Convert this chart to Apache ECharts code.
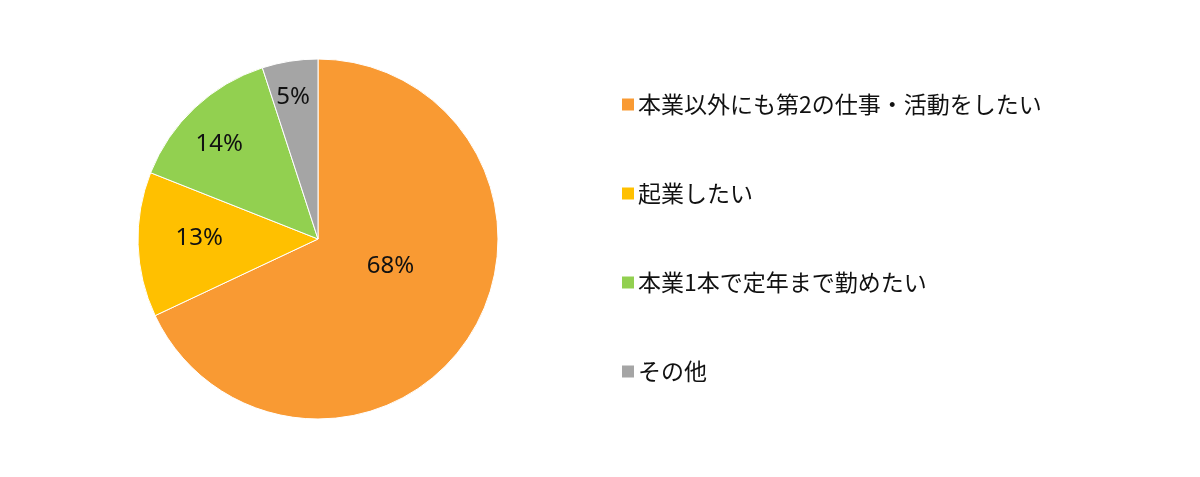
<!DOCTYPE html>
<html lang="ja">
<head>
<meta charset="UTF-8">
<title>Pie</title>
<style>
    * { margin: 0; padding: 0; }
    html, body { background: #fff; }
    #main { width: 1200px; height: 477px; }
</style>
<script src="https://cdn.jsdelivr.net/npm/echarts@6/dist/echarts.min.js"></script>
</head>
<body>
<div id="main"></div>
<script>
    var categories = ['本業以外にも第2の仕事・活動をしたい', '起業したい', '本業1本で定年まで勤めたい', 'その他'];
    var values = [68, 13, 14, 5];
    var colors = ['#F99A33', '#FFC000', '#92D050', '#A5A5A5'];

    var cx = 318, cy = 239, R = 180;
    // label placement: share of radius, and angle nudge in degrees
    var labelDist = [0.43, 0.66, 0.76, 0.8];
    var labelTurn = [-12, 2, -3, -1];

    var total = values.reduce(function (a, b) { return a + b; }, 0);
    function midAngle(i) {
        var before = 0;
        for (var k = 0; k < i; k++) before += values[k];
        return (before + values[i] / 2) / total * Math.PI * 2 + labelTurn[i] * Math.PI / 180;
    }

    var myChart = echarts.init(document.getElementById('main'));
    var option = {
        animation: false,
        color: colors,
        legend: {
            orient: 'vertical',
            left: 615,
            top: 88,
            icon: 'rect',
            itemWidth: 14,
            itemHeight: 14,
            itemGap: 66,
            textStyle: {
                fontFamily: 'Noto Sans CJK JP',
                fontSize: 23,
                color: '#111',
                padding: [0, 0, 0, -2]
            },
            data: categories
        },
        series: [{
            type: 'pie',
            center: [cx, cy],
            radius: R,
            startAngle: 90,
            clockwise: true,
            itemStyle: { borderColor: '#fff', borderWidth: 1 },
            label: {
                position: 'inside',
                formatter: '{c}%',
                fontFamily: 'Noto Sans',
                fontSize: 24,
                color: '#111'
            },
            labelLayout: function (p) {
                var a = midAngle(p.dataIndex);
                var f = labelDist[p.dataIndex];
                return { x: cx + Math.sin(a) * R * f, y: cy - Math.cos(a) * R * f };
            },
            emphasis: { disabled: true },
            data: categories.map(function (c, i) { return { name: c, value: values[i] }; })
        }]
    };
    myChart.setOption(option);
</script>
</body>
</html>
